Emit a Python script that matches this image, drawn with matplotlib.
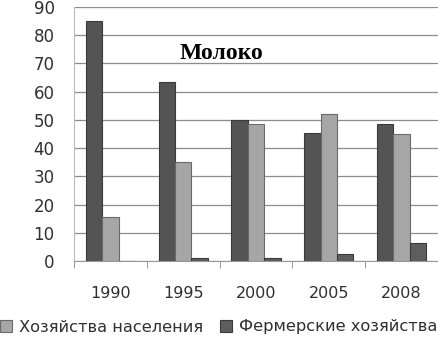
import matplotlib
matplotlib.use("Agg")
import matplotlib.pyplot as plt
import numpy as np

years = ["1990", "1995", "2000", "2005", "2008"]
org_vals = [85, 63.5, 50, 45.5, 48.5]          # Сельскохозяйственные организации
house_vals = [15.5, 35, 48.5, 52, 45]          # Хозяйства населения
farm_vals = [0, 1, 1, 2.5, 6.5]                # Фермерские хозяйства
yticks = [0, 10, 20, 30, 40, 50, 60, 70, 80, 90]

plt.rcParams['font.family'] = ['DejaVu Sans']

fig = plt.figure(figsize=(4.39, 3.45), dpi=100)
ax = fig.add_axes([74/439, 1-261/345, 364/439, 254/345])

x = np.arange(len(years))
w = 0.225
series = [
    (org_vals, "#545454", "#3a3a3a", None),
    (house_vals, "#a6a6a6", "#6a6a6a", "Хозяйства населения"),
    (farm_vals, "#5e5e5e", "#3a3a3a", "Фермерские хозяйства"),
]
handles = []
for i, (vals, col, ec, lab) in enumerate(series):
    bars = ax.bar(x + (i - 1) * w, vals, width=w, color=col, edgecolor=ec,
                  linewidth=0.8, zorder=3)
    if lab:
        handles.append((bars, lab))

ax.set_xlim(-0.5, len(years) - 0.5)
ax.set_ylim(0, 90)
ax.set_yticks(yticks)
ax.set_xticks(x)
ax.set_xticklabels(years)
ax.tick_params(axis='y', length=0, labelsize=12, colors='#303030', pad=14)
ax.tick_params(axis='x', length=0, labelsize=11.5, colors='#303030', pad=18)
ax.set_xticks(np.arange(len(years) + 1) - 0.5, minor=True)
ax.tick_params(axis='x', which='minor', length=5, color='#888888', direction='out')
ax.yaxis.grid(True, color='#8c8c8c', linewidth=0.9, zorder=0)
for s in ['top', 'right']:
    ax.spines[s].set_visible(False)
ax.spines['left'].set_color('#bbbbbb')
ax.spines['bottom'].set_color('#999999')

ax.text(1.53, 73.5, "Молоко", family=['Liberation Serif', 'DejaVu Serif'],
        fontweight='bold', fontsize=17, ha='center', va='center', zorder=5)

fig.legend([h for h, _ in handles], [l for _, l in handles],
           loc='center left', bbox_to_anchor=(0.0, 1-327/345), ncol=2,
           frameon=False, fontsize=11.7, handlelength=0.75, handleheight=0.75,
           handletextpad=0.45, columnspacing=1.0, borderpad=0, borderaxespad=0,
           labelcolor='#303030')

fig.savefig("out.png", dpi=100)
